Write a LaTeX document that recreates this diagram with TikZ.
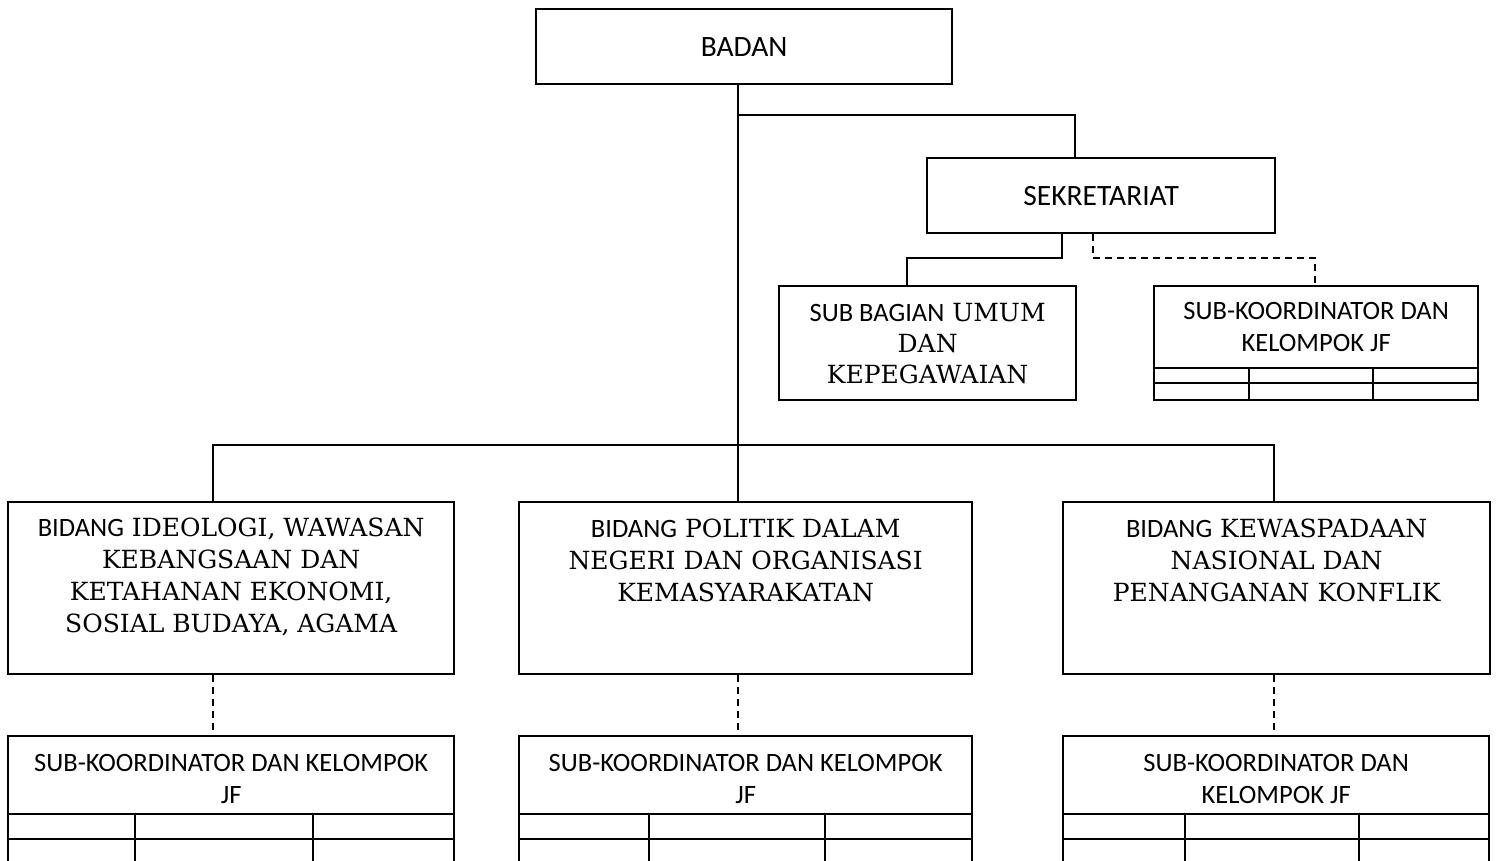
\documentclass[tikz,border=0pt]{standalone}
\usepackage{fontspec}
\setmainfont{DejaVu Serif}
\newfontfamily\calfnt{Carlito}
\newcommand\cf{\calfnt\fontsize{26.5}{32}\selectfont}
\newcommand\cfbig{\calfnt\fontsize{29.5}{34}\selectfont}
\tikzset{
  box/.style={draw, line width=2.3pt, inner sep=0pt, anchor=north west},
  conn/.style={line width=2.3pt},
  dconn/.style={line width=2.3pt, dash pattern=on 7pt off 5pt},
  stxt/.style={align=center, inner sep=0pt, anchor=base, font=\fontsize{25}{32}\selectfont},
  ctxt/.style={align=center, inner sep=0pt, anchor=base, font=\cf},
}
\begin{document}
\begin{tikzpicture}[x=1pt,y=-1pt]
\useasboundingbox (0,0) rectangle (1497,860);
\clip (0,0) rectangle (1497,860);
% top boxes
\node[box, minimum width=416pt, minimum height=75pt, font=\cfbig] (badan) at (535,8) {BADAN};
\node[box, minimum width=348pt, minimum height=75pt, font=\cfbig] (sek) at (926,157) {SEKRETARIAT};
\node[box, minimum width=297pt, minimum height=114pt, align=center, font=\fontsize{25}{31}\selectfont] (subbag) at (778,285) {{\cf SUB BAGIAN} UMUM\\DAN\\KEPEGAWAIAN};
\node[box, minimum width=324pt, minimum height=114pt] (sk0) at (1153,285) {};
\node[ctxt, anchor=center] (sk0t) at ([yshift=-42pt]sk0.north) {SUB-KOORDINATOR DAN\\KELOMPOK JF};
\draw[conn] ([yshift=-83pt]sk0.north west) -- ([yshift=-83pt]sk0.north east);
\draw[conn] ([yshift=-98pt]sk0.north west) -- ([yshift=-98pt]sk0.north east);
\draw[conn] ([xshift=96pt,yshift=-83pt]sk0.north west) -- ([xshift=96pt]sk0.south west);
\draw[conn] ([xshift=220pt,yshift=-83pt]sk0.north west) -- ([xshift=220pt]sk0.south west);
% bidang boxes
\node[box, minimum width=446pt, minimum height=172pt] (bid1) at (7,501) {};
\node[box, minimum width=453pt, minimum height=172pt] (bid2) at (518,501) {};
\node[box, minimum width=427pt, minimum height=172pt] (bid3) at (1062,501) {};
\node[stxt] (bid1t) at ([yshift=-131pt]bid1.north) {{\cf BIDANG} IDEOLOGI, WAWASAN\\KEBANGSAAN DAN\\KETAHANAN EKONOMI,\\SOSIAL BUDAYA, AGAMA};
\node[stxt] (bid2t) at ([yshift=-100pt]bid2.north) {{\cf BIDANG} POLITIK DALAM\\NEGERI DAN ORGANISASI\\KEMASYARAKATAN};
\node[stxt] (bid3t) at ([yshift=-100pt]bid3.north) {{\cf BIDANG} KEWASPADAAN\\NASIONAL DAN\\PENANGANAN KONFLIK};
% bottom sub-koordinator boxes
\node[box, minimum width=446pt, minimum height=200pt] (sk1) at (7,735) {};
\node[box, minimum width=453pt, minimum height=200pt] (sk2) at (518,735) {};
\node[box, minimum width=426pt, minimum height=200pt] (sk3) at (1062,735) {};
\node[ctxt] (sk1t) at ([yshift=-68pt]sk1.north) {SUB-KOORDINATOR DAN KELOMPOK\\JF};
\node[ctxt] (sk2t) at ([yshift=-68pt]sk2.north) {SUB-KOORDINATOR DAN KELOMPOK\\JF};
\node[ctxt] (sk3t) at ([yshift=-68pt]sk3.north) {SUB-KOORDINATOR DAN\\KELOMPOK JF};
\foreach \b/\ca/\cb in {sk1/128/306, sk2/131/307, sk3/123/297}{
  \draw[conn] ([yshift=-79pt]\b.north west) -- ([yshift=-79pt]\b.north east);
  \draw[conn] ([yshift=-104pt]\b.north west) -- ([yshift=-104pt]\b.north east);
  \draw[conn] ([xshift=\ca pt,yshift=-79pt]\b.north west) -- ([xshift=\ca pt]\b.south west);
  \draw[conn] ([xshift=\cb pt,yshift=-79pt]\b.north west) -- ([xshift=\cb pt]\b.south west);
}
% connectors
\coordinate (tr) at (738,445);
\coordinate (j1) at (738,115);
\coordinate (sekin) at (1075,157);
\coordinate (c1) at (213,445);
\coordinate (c3) at (1274,445);
\coordinate (s0) at (907,258);
\coordinate (s1) at (1062,258);
\coordinate (s2) at (1093,258);
\coordinate (s3) at (1315,258);
\draw[conn] (tr |- badan.south) -- (tr |- bid2.north);
\draw[conn] (j1) -| (sekin |- sek.north);
\draw[conn] (c1 |- bid1.north) -- (c1) -- (c3) -- (c3 |- bid3.north);
\draw[conn] (s1 |- sek.south) -- (s1) -- (s0) -- (s0 |- subbag.north);
\draw[dconn] (s2 |- sek.south) -- (s2) -- (s3) -- (s3 |- sk0.north);
\draw[dconn] (c1 |- bid1.south) -- (c1 |- sk1.north);
\draw[dconn] (tr |- bid2.south) -- (tr |- sk2.north);
\draw[dconn] (c3 |- bid3.south) -- (c3 |- sk3.north);
\end{tikzpicture}
\end{document}
